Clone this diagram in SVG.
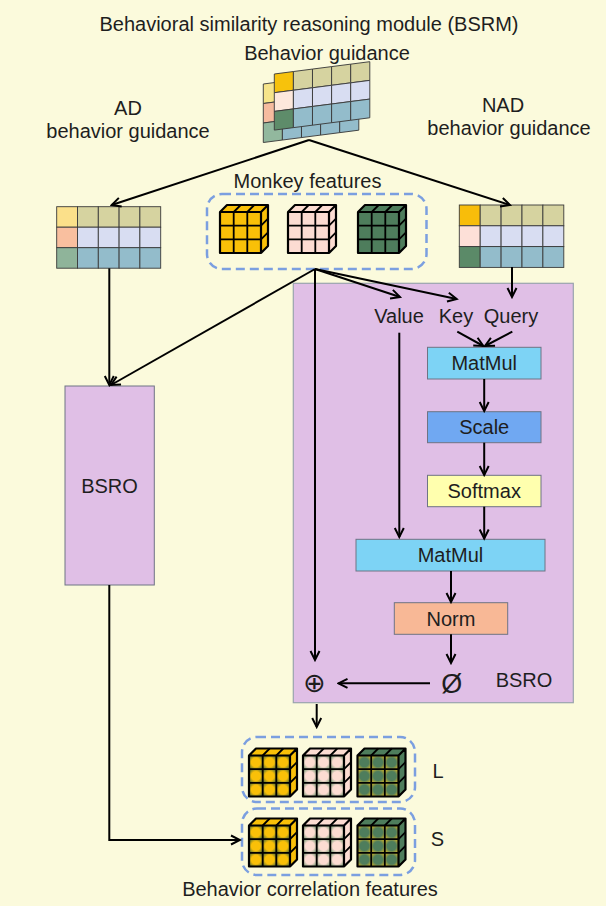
<svg xmlns="http://www.w3.org/2000/svg" width="606" height="906" viewBox="0 0 606 906">
<defs>
<style>
text{font-family:"Liberation Sans",Arial,sans-serif;fill:#1e1e1e;font-size:20px;text-anchor:middle}
.sym{font-family:"DejaVu Sans","Liberation Sans",sans-serif}
.ln{fill:none;stroke:#000;stroke-width:2}
.arr{marker-end:url(#ah)}
.op{stroke:#6e7484;stroke-width:1}
.dash{fill:none;stroke:#7b9fe0;stroke-width:2.5;stroke-dasharray:9 5}
.cell{stroke:#3a3a3a;stroke-width:0.9}
.edge{fill:none;stroke:#000;stroke-width:2.2;stroke-linejoin:round}
.grid{stroke:#000;stroke-width:1.8;fill:none}
.kh{fill:#d6d3a0}.lv{fill:#d8ddf2}.bl{fill:#93bccb}
</style>
<marker id="ah" markerWidth="12" markerHeight="12" refX="10" refY="6" orient="auto" markerUnits="userSpaceOnUse">
<path d="M1,1.5 L10,6 L1,10.5" fill="none" stroke="#000" stroke-width="2"/>
</marker>
<radialGradient id="gy" r="0.72"><stop offset="0.45" stop-color="#2f5c3c" stop-opacity="0"/><stop offset="0.95" stop-color="#2f5c3c" stop-opacity="1"/></radialGradient>
<radialGradient id="gp" r="0.72"><stop offset="0.45" stop-color="#5a8a5e" stop-opacity="0"/><stop offset="0.95" stop-color="#5a8a5e" stop-opacity="1"/></radialGradient>
<radialGradient id="gg" r="0.72"><stop offset="0.45" stop-color="#f2c21a" stop-opacity="0"/><stop offset="0.95" stop-color="#f2c21a" stop-opacity="1"/></radialGradient>
<!-- cube faces take their colour from the referencing element -->
<g id="cubebody">
<polygon points="0,7 7,0 48,0 41,7" fill="currentColor"/>
<polygon points="41,7 48,0 48,41 41,48" fill="currentColor"/>
<rect x="0" y="7" width="41" height="41" fill="currentColor"/>
</g>
<g id="cubelines">
<path class="grid" d="M13.7,7V48M27.3,7V48M0,20.7H41M0,34.3H41M13.7,7L20.7,0M27.3,7L34.3,0M41,20.7L48,13.7M41,34.3L48,27.3"/>
<path class="edge" d="M0,7H41V48H0ZM0,7L7,0H48L41,7M48,0V41L41,48"/>
</g>
<g id="ov-y" fill="url(#gy)">
<rect x="0" y="7" width="13.7" height="13.7"/><rect x="13.7" y="7" width="13.7" height="13.7"/><rect x="27.3" y="7" width="13.7" height="13.7"/>
<rect x="0" y="20.7" width="13.7" height="13.7"/><rect x="13.7" y="20.7" width="13.7" height="13.7"/><rect x="27.3" y="20.7" width="13.7" height="13.7"/>
<rect x="0" y="34.3" width="13.7" height="13.7"/><rect x="13.7" y="34.3" width="13.7" height="13.7"/><rect x="27.3" y="34.3" width="13.7" height="13.7"/>
</g>
<g id="ov-p" fill="url(#gp)">
<rect x="0" y="7" width="13.7" height="13.7"/><rect x="13.7" y="7" width="13.7" height="13.7"/><rect x="27.3" y="7" width="13.7" height="13.7"/>
<rect x="0" y="20.7" width="13.7" height="13.7"/><rect x="13.7" y="20.7" width="13.7" height="13.7"/><rect x="27.3" y="20.7" width="13.7" height="13.7"/>
<rect x="0" y="34.3" width="13.7" height="13.7"/><rect x="13.7" y="34.3" width="13.7" height="13.7"/><rect x="27.3" y="34.3" width="13.7" height="13.7"/>
</g>
<g id="ov-g" fill="url(#gg)">
<rect x="0" y="7" width="13.7" height="13.7"/><rect x="13.7" y="7" width="13.7" height="13.7"/><rect x="27.3" y="7" width="13.7" height="13.7"/>
<rect x="0" y="20.7" width="13.7" height="13.7"/><rect x="13.7" y="20.7" width="13.7" height="13.7"/><rect x="27.3" y="20.7" width="13.7" height="13.7"/>
<rect x="0" y="34.3" width="13.7" height="13.7"/><rect x="13.7" y="34.3" width="13.7" height="13.7"/><rect x="27.3" y="34.3" width="13.7" height="13.7"/>
</g>
</defs>

<rect width="606" height="906" fill="#fbfadc"/>

<text x="309" y="31">Behavioral similarity reasoning module (BSRM)</text>

<!-- stacked behaviour guidance tensor -->
<g id="behavior-guidance">
<text x="327" y="60">Behavior guidance</text>
<g transform="matrix(1,-0.129,0,1,263.3,84)" class="cell">
<rect x="0" y="0" width="19.1" height="19.5" fill="#f6e48a"/>
<rect x="0" y="19.5" width="19.1" height="19.5" fill="#f6bb9f"/>
<rect x="0" y="39" width="19.1" height="19.5" fill="#92b89e"/>
<rect x="19.1" y="39" width="19.1" height="19.5" class="bl"/>
<rect x="38.2" y="39" width="19.1" height="19.5" class="bl"/>
<rect x="57.3" y="39" width="19.1" height="19.5" class="bl"/>
<rect x="76.4" y="39" width="19.1" height="19.5" class="bl"/>
</g>
<g transform="matrix(1,-0.129,0,1,274.3,74)" class="cell">
<rect x="0" y="0" width="19.1" height="18.7" fill="#f7c20c"/>
<rect x="19.1" y="0" width="19.1" height="18.7" class="kh"/>
<rect x="38.2" y="0" width="19.1" height="18.7" class="kh"/>
<rect x="57.3" y="0" width="19.1" height="18.7" class="kh"/>
<rect x="76.4" y="0" width="19.1" height="18.7" class="kh"/>
<rect x="0" y="18.7" width="19.1" height="18.7" fill="#fde8dc"/>
<rect x="19.1" y="18.7" width="19.1" height="18.7" class="lv"/>
<rect x="38.2" y="18.7" width="19.1" height="18.7" class="lv"/>
<rect x="57.3" y="18.7" width="19.1" height="18.7" class="lv"/>
<rect x="76.4" y="18.7" width="19.1" height="18.7" class="lv"/>
<rect x="0" y="37.4" width="19.1" height="18.7" fill="#5e8c6a"/>
<rect x="19.1" y="37.4" width="19.1" height="18.7" class="bl"/>
<rect x="38.2" y="37.4" width="19.1" height="18.7" class="bl"/>
<rect x="57.3" y="37.4" width="19.1" height="18.7" class="bl"/>
<rect x="76.4" y="37.4" width="19.1" height="18.7" class="bl"/>
</g>
</g>

<g id="ad-guidance">
<text x="128" y="115">AD</text>
<text x="128" y="138">behavior guidance</text>
<g transform="translate(56.7,206.7)" class="cell">
<rect x="0" y="0" width="20.8" height="20.5" fill="#fbe08a"/>
<rect x="20.8" y="0" width="20.8" height="20.5" class="kh"/>
<rect x="41.6" y="0" width="20.8" height="20.5" class="kh"/>
<rect x="62.4" y="0" width="20.8" height="20.5" class="kh"/>
<rect x="83.2" y="0" width="20.8" height="20.5" class="kh"/>
<rect x="0" y="20.5" width="20.8" height="20.5" fill="#f9bf9f"/>
<rect x="20.8" y="20.5" width="20.8" height="20.5" class="lv"/>
<rect x="41.6" y="20.5" width="20.8" height="20.5" class="lv"/>
<rect x="62.4" y="20.5" width="20.8" height="20.5" class="lv"/>
<rect x="83.2" y="20.5" width="20.8" height="20.5" class="lv"/>
<rect x="0" y="41" width="20.8" height="20.5" fill="#8fb49a"/>
<rect x="20.8" y="41" width="20.8" height="20.5" class="bl"/>
<rect x="41.6" y="41" width="20.8" height="20.5" class="bl"/>
<rect x="62.4" y="41" width="20.8" height="20.5" class="bl"/>
<rect x="83.2" y="41" width="20.8" height="20.5" class="bl"/>
</g>
</g>

<g id="nad-guidance">
<text x="503" y="112">NAD</text>
<text x="509" y="135">behavior guidance</text>
<g transform="translate(459.3,205)" class="cell">
<rect x="0" y="0" width="20.9" height="20.8" fill="#f8bd0a"/>
<rect x="20.9" y="0" width="20.9" height="20.8" class="kh"/>
<rect x="41.8" y="0" width="20.9" height="20.8" class="kh"/>
<rect x="62.7" y="0" width="20.9" height="20.8" class="kh"/>
<rect x="83.6" y="0" width="20.9" height="20.8" class="kh"/>
<rect x="0" y="20.8" width="20.9" height="20.8" fill="#fde0d8"/>
<rect x="20.9" y="20.8" width="20.9" height="20.8" class="lv"/>
<rect x="41.8" y="20.8" width="20.9" height="20.8" class="lv"/>
<rect x="62.7" y="20.8" width="20.9" height="20.8" class="lv"/>
<rect x="83.6" y="20.8" width="20.9" height="20.8" class="lv"/>
<rect x="0" y="41.6" width="20.9" height="20.8" fill="#5b8a68"/>
<rect x="20.9" y="41.6" width="20.9" height="20.8" class="bl"/>
<rect x="41.8" y="41.6" width="20.9" height="20.8" class="bl"/>
<rect x="62.7" y="41.6" width="20.9" height="20.8" class="bl"/>
<rect x="83.6" y="41.6" width="20.9" height="20.8" class="bl"/>
</g>
</g>

<g id="monkey-features">
<text x="307.5" y="188">Monkey features</text>
<rect class="dash" x="207" y="194" width="219.5" height="75" rx="15"/>
<use href="#cubebody" x="220" y="205" style="color:#f9c008"/><use href="#cubelines" x="220" y="205"/>
<use href="#cubebody" x="288" y="205" style="color:#fcdcd2"/><use href="#cubelines" x="288" y="205"/>
<use href="#cubebody" x="358" y="205" style="color:#4e7d5c"/><use href="#cubelines" x="358" y="205"/>
</g>

<g id="bsro-left">
<rect x="65" y="386" width="89.3" height="199" fill="#e0bfe6" class="op"/>
<text x="109.5" y="493">BSRO</text>
</g>

<g id="bsro-right">
<rect x="293.3" y="283.3" width="280" height="419.4" fill="#e0bfe6" stroke="#9aa3ad" stroke-width="1.2"/>
<text x="524" y="687">BSRO</text>
<text x="399" y="323">Value</text>
<text x="456" y="323">Key</text>
<text x="511" y="323">Query</text>
</g>
<g id="matmul1"><rect x="427.5" y="347.3" width="113.5" height="31.7" fill="#7dd3f5" class="op"/><text x="484.2" y="370">MatMul</text></g>
<g id="scale"><rect x="427.5" y="411.7" width="113.5" height="31" fill="#70a8f2" class="op"/><text x="484.2" y="434">Scale</text></g>
<g id="softmax"><rect x="427.5" y="475.3" width="113.5" height="31.4" fill="#ffffae" class="op"/><text x="484.2" y="498">Softmax</text></g>
<g id="matmul2"><rect x="356" y="539.3" width="189" height="31.7" fill="#7dd3f5" class="op"/><text x="450.5" y="562">MatMul</text></g>
<g id="norm"><rect x="394.3" y="602.7" width="113.4" height="31.6" fill="#f8b896" class="op"/><text x="451" y="625.5">Norm</text></g>
<g id="empty-op"><text x="451.7" y="693" style="font-size:27px">Ø</text></g>
<g id="add-op"><text class="sym" x="314.5" y="692" style="font-size:27px">⊕</text></g>

<g id="correlation-features">
<rect class="dash" x="242" y="737" width="173" height="65" rx="15"/>
<rect class="dash" x="242" y="808.5" width="173" height="66.5" rx="15"/>
<use href="#cubebody" x="249" y="748.5" style="color:#f9c008"/><use href="#ov-y" x="249" y="748.5"/><use href="#cubelines" x="249" y="748.5"/>
<use href="#cubebody" x="303" y="748.5" style="color:#fcdcd2"/><use href="#ov-p" x="303" y="748.5"/><use href="#cubelines" x="303" y="748.5"/>
<use href="#cubebody" x="357.5" y="748.5" style="color:#4e7d5c"/><use href="#ov-g" x="357.5" y="748.5"/><use href="#cubelines" x="357.5" y="748.5"/>
<use href="#cubebody" x="249" y="818.5" style="color:#f9c008"/><use href="#ov-y" x="249" y="818.5"/><use href="#cubelines" x="249" y="818.5"/>
<use href="#cubebody" x="303" y="818.5" style="color:#fcdcd2"/><use href="#ov-p" x="303" y="818.5"/><use href="#cubelines" x="303" y="818.5"/>
<use href="#cubebody" x="357.5" y="818.5" style="color:#4e7d5c"/><use href="#ov-g" x="357.5" y="818.5"/><use href="#cubelines" x="357.5" y="818.5"/>
<text x="438" y="778">L</text>
<text x="437.5" y="846">S</text>
<text x="310" y="896">Behavior correlation features</text>
</g>

<g id="connectors" class="ln">
<path class="arr" d="M309,140L111.7,205"/>
<path class="arr" d="M309,140L510,205"/>
<path class="arr" d="M109.3,268.3V385"/>
<path class="arr" d="M315,269L111,385"/>
<path class="arr" d="M315,269L400,297"/>
<path class="arr" d="M315,269L456.7,299"/>
<path class="arr" d="M315,269V660"/>
<path class="arr" d="M512,267V297"/>
<path class="arr" d="M457.3,331.7L483.3,346"/>
<path class="arr" d="M512.3,331.7L485,346"/>
<path class="arr" d="M484.2,379V411"/>
<path class="arr" d="M484.2,442.7V475"/>
<path class="arr" d="M484.2,506.7V538.5"/>
<path class="arr" d="M399.3,332.7V537"/>
<path class="arr" d="M451,571V602"/>
<path class="arr" d="M451,634.3V663"/>
<path class="arr" d="M430,683.3H338.5"/>
<path class="arr" d="M316.7,704V727"/>
<path class="arr" d="M109.3,585V840H240"/>
</g>
</svg>
